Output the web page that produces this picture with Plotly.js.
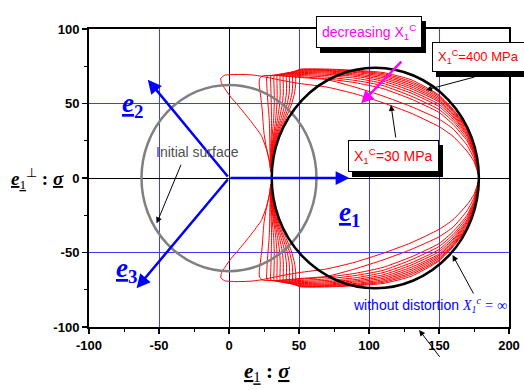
<!DOCTYPE html>
<html><head><meta charset="utf-8">
<script src="https://cdn.plot.ly/plotly-3.0.1.min.js"></script>
<style>html,body{margin:0;padding:0;background:#fff}#chart{width:524px;height:390px}</style>
</head><body><div id="chart"></div>
<script>
// ---- data ----
const xTicks = [-100, -50, 0, 50, 100, 150, 200];
const yTicks = [-100, -50, 0, 50, 100];
const X1c = [30, 40, 50, 60, 80, 100, 130, 160, 200, 250, 320, 400]; // MPa (curve family)

// initial surface (gray) and undistorted surface (black): centre x, centre y, radius
const initialCircle = [0, 0, 62.5];
const noDistortionCircle = [104.5, 0, 74];

// basis vectors drawn from the origin (tips)
const vecNames = ['1', '2', '3'];
const vecTipX = [86, -58, -66];
const vecTipY = [0, 66, -74];

// upper halves of the distorted surfaces (lower halves are mirror images)
const c0x = [29.8, 29.0, 26.6, 23.0, 16.0, 6.4, 1.5, -3.0, -5.5, -5.8, -3.0, 5, 15, 22, 35, 50, 70, 90, 110, 130, 150, 160, 170, 175, 178.5];
const c0y = [4, 10.7, 19.7, 28.6, 37.6, 48.8, 54, 60, 64, 67, 69, 69.5, 69.3, 68.5, 66, 63.5, 61, 56.5, 50.5, 43.5, 34.5, 28, 18, 11, 0];
const c1x = [29.8, 29.0, 28.0, 26.6, 25.0, 24.3, 23.8, 23.0, 22.2, 21.6, 21.8, 24, 35, 50, 70, 90, 110, 130, 150, 160, 170, 175, 178.5];
const c1y = [4, 10, 15, 21, 30, 38, 45, 52, 58, 63, 66.5, 68.5, 68.8, 67.5, 66, 61, 55, 48, 39.5, 33, 22, 13, 0];

// remaining curves: ear x at earY levels, corner point, arc y at arcX stations
const earY = [4, 9, 14, 20, 26, 33, 40, 49, 57, 63];
const arcX = [50, 70, 90, 110, 130, 150, 160, 170, 175, 178.5];
const earX2 = [29.8, 29.6, 29.4, 29.2, 29.1, 29.0, 28.7, 27.9, 27.3, 27.0];
const earX3 = [29.8, 29.7, 29.7, 29.8, 30.0, 30.3, 30.4, 30.2, 30.0, 29.8];
const earX4 = [29.8, 29.8, 29.9, 30.2, 30.6, 31.3, 31.9, 32.3, 32.3, 32.1];
const earX5 = [29.8, 29.9, 30.1, 30.6, 31.3, 32.5, 33.4, 34.2, 34.4, 34.3];
const earX6 = [29.8, 30.0, 30.3, 30.9, 31.8, 33.3, 34.7, 36.1, 36.6, 36.5];
const earX7 = [29.8, 30.0, 30.4, 31.2, 32.3, 34.2, 36.0, 38.0, 38.8, 38.8];
const earX8 = [29.8, 30.1, 30.5, 31.5, 32.8, 35.0, 37.2, 39.8, 41.0, 41.1];
const earX9 = [29.8, 30.1, 30.6, 31.8, 33.3, 35.8, 38.4, 41.4, 43.0, 43.3];
const earX10 = [29.8, 30.2, 30.8, 32.1, 33.8, 36.6, 39.5, 43.0, 45.0, 45.5];
const earX11 = [29.8, 30.2, 30.9, 32.4, 34.3, 37.4, 40.6, 44.5, 46.8, 47.6];
const cornerX = [27.2, 30.0, 32.4, 34.6, 36.8, 39.0, 41.2, 43.4, 45.6, 48.0];
const cornerY = [68.3, 68.6, 68.9, 69.2, 69.5, 69.8, 70.1, 70.4, 70.7, 71.0];
const arcY2 = [68.0, 66.5, 64.0, 60.0, 53.0, 44.0, 36.0, 25.0, 15.0, 0];
const arcY3 = [68.8, 67.7, 65.5, 62.0, 55.0, 46.0, 38.0, 26.5, 16.0, 0];
const arcY4 = [69.5, 68.7, 67.0, 63.5, 57.0, 48.0, 39.5, 28.0, 17.0, 0];
const arcY5 = [70.2, 69.6, 68.2, 65.0, 58.5, 49.5, 41.0, 29.0, 17.8, 0];
const arcY6 = [70.8, 70.4, 69.1, 66.2, 60.0, 51.0, 42.0, 30.0, 18.5, 0];
const arcY7 = [71.3, 71.1, 69.9, 67.3, 61.3, 52.0, 43.0, 31.0, 19.2, 0];
const arcY8 = [71.8, 71.7, 70.8, 68.3, 62.5, 53.0, 44.0, 32.0, 19.8, 0];
const arcY9 = [72.2, 72.2, 71.4, 69.2, 63.7, 54.0, 44.8, 32.8, 20.4, 0];
const arcY10 = [72.6, 72.7, 71.9, 70.0, 64.8, 55.0, 45.5, 33.5, 21.0, 0];
const arcY11 = [72.9, 73.1, 72.3, 70.8, 66.0, 55.7, 46.2, 34.0, 21.6, 0];

// ---- build traces ----
const upperX = [c0x, c1x];
const upperY = [c0y, c1y];
const ears = [earX2, earX3, earX4, earX5, earX6, earX7, earX8, earX9, earX10, earX11];
const arcs = [arcY2, arcY3, arcY4, arcY5, arcY6, arcY7, arcY8, arcY9, arcY10, arcY11];
ears.forEach((ex, i) => {
  upperX.push(ex.concat([cornerX[i]], arcX));
  upperY.push(earY.concat([cornerY[i]], arcs[i]));
});

const traces = upperX.map((ux, k) => {
  const uy = upperY[k];
  const lx = ux.slice(0, -1).reverse();
  const ly = uy.slice(0, -1).reverse().map(v => -v);
  return {
    type: 'scatter', mode: 'lines',
    x: ux.concat(lx), y: uy.concat(ly),
    name: 'X1c=' + X1c[k] + ' MPa',
    line: {color: '#ff0000', width: 1, shape: 'spline', smoothing: 0.5},
    showlegend: false, hoverinfo: 'skip'
  };
});

function circleShape(c, color) {
  return {type: 'circle', xref: 'x', yref: 'y',
    x0: c[0] - c[2], x1: c[0] + c[2], y0: c[1] - c[2], y1: c[1] + c[2],
    line: {color: color, width: 2.5}, layer: 'above'};
}

const serif = 'Liberation Serif, Times New Roman, serif';
const sans = 'Liberation Sans, Arial, sans-serif';

const annotations = [];
// blue basis vectors
vecTipX.forEach((tx, i) => {
  annotations.push({x: tx, y: vecTipY[i], xref: 'x', yref: 'y', ax: 0, ay: 0, axref: 'x', ayref: 'y',
    text: '', showarrow: true, arrowhead: 2, arrowsize: 1.1, arrowwidth: 2.5, arrowcolor: '#0000ff'});
});
// basis vector labels
const vecLabX = [86, -69, -73];
const vecLabY = [-24, 49, -62];
vecNames.forEach((n, i) => {
  annotations.push({x: vecLabX[i], y: vecLabY[i], xref: 'x', yref: 'y', showarrow: false,
    xanchor: 'center', yanchor: 'middle',
    text: '<b><i><u>e</u></i></b><sub><b>' + n + '</b></sub>',
    font: {family: serif, size: 27, color: '#0000ff'}});
});
// Initial surface
annotations.push({x: -22.3, y: 17.4, xref: 'x', yref: 'y', showarrow: false, text: 'Initial surface',
  xanchor: 'center', yanchor: 'middle',
  font: {family: sans, size: 14, color: '#505050'}});
annotations.push({x: -51.7, y: -30.4, xref: 'x', yref: 'y', ax: 25, ay: -60, text: '', showarrow: true,
  arrowhead: 2, arrowsize: 1.2, arrowwidth: 1, arrowcolor: '#000'});
// without distortion
annotations.push({x: 87.4, y: -85.2, xref: 'x', yref: 'y', xanchor: 'left', yanchor: 'middle', showarrow: false,
  text: 'without distortion <span style="font-family:Liberation Serif;font-style:italic">X<sub>1</sub><sup>c</sup> = ∞</span>',
  font: {family: sans, size: 14, color: '#0000ff'}});
annotations.push({x: 159.7, y: -51.7, xref: 'x', yref: 'y', ax: 21.7, ay: 40, text: '', showarrow: true,
  arrowhead: 2, arrowsize: 1.2, arrowwidth: 1, arrowcolor: '#000'});
annotations.push({x: 0.786, y: -0.01, xref: 'paper', yref: 'paper', ax: 21.7, ay: 28.3, text: '', showarrow: true,
  arrowhead: 2, arrowsize: 1.2, arrowwidth: 1, arrowcolor: '#000'});
// magenta arrow
annotations.push({x: 94.4, y: 50.1, xref: 'x', yref: 'y', ax: 41.6, ay: -43.3, text: '', showarrow: true,
  arrowhead: 2, arrowsize: 1, arrowwidth: 2.5, arrowcolor: '#ff00ff'});
// arrows from boxes
annotations.push({x: 140.7, y: 59.1, xref: 'x', yref: 'y', ax: 50, ay: -13.3, text: '', showarrow: true,
  arrowhead: 2, arrowsize: 1.2, arrowwidth: 1, arrowcolor: '#000'});
annotations.push({x: 115.7, y: 49, xref: 'x', yref: 'y', ax: 5, ay: 34, text: '', showarrow: true,
  arrowhead: 2, arrowsize: 1.2, arrowwidth: 1, arrowcolor: '#000'});

// boxed labels with drop shadows
function boxed(px, py, text, color, size) {
  const base = {x: px, y: py, xref: 'paper', yref: 'paper', showarrow: false, text: text,
    xanchor: 'center', yanchor: 'middle', borderpad: 5, borderwidth: 1};
  annotations.push(Object.assign({}, base, {xshift: 4, yshift: -5, bgcolor: '#000', bordercolor: '#000',
    font: {family: sans, size: size, color: '#000'}}));
  annotations.push(Object.assign({}, base, {bgcolor: '#fff', bordercolor: '#000',
    font: {family: sans, size: size, color: color}}));
}
boxed(0.667, 0.99, 'decreasing X<sub>1</sub><sup>C</sup>', '#ff00ff', 14);
boxed(0.927, 0.907, 'X<sub>1</sub><sup>C</sup>=400 MPa', '#ff0000', 13);
boxed(0.726, 0.5728, 'X<sub>1</sub><sup>C</sup>=30 MPa', '#ff0000', 14);

// axis titles
annotations.push({x: 0.424, y: -0.151, xref: 'paper', yref: 'paper', showarrow: false,
  xanchor: 'center', yanchor: 'middle',
  text: '<b><i><u>e</u></i></b><sub><u>1</u></sub><b> : <i><u>σ</u></i></b>',
  font: {family: serif, size: 21, color: '#000'}});
annotations.push({x: -0.19, y: 0.5, xref: 'paper', yref: 'paper', showarrow: false,
  xanchor: 'left', yanchor: 'middle',
  text: '<b><i><u>e</u></i></b><sub><u>1</u></sub><sup>⊥</sup><b> : <i><u>σ</u></i></b>',
  font: {family: serif, size: 19, color: '#000'}});

const axisCommon = {
  ticks: 'outside', ticklen: 5, tickwidth: 1.5, tickcolor: '#000',
  showline: true, linewidth: 2, linecolor: '#000', mirror: true,
  showgrid: true, gridcolor: '#3c3cff', gridwidth: 1,
  zeroline: true, zerolinewidth: 1,
  tickfont: {family: sans, size: 13, weight: 'bold', color: '#000'},
  fixedrange: true
};

const layout = {
  width: 524, height: 390,
  margin: {l: 89, r: 15, t: 29, b: 63},
  paper_bgcolor: '#fff', plot_bgcolor: '#fff',
  showlegend: false,
  xaxis: Object.assign({}, axisCommon, {range: [-100, 200], tickvals: xTicks, ticktext: xTicks.map(String),
    zerolinecolor: '#000050',
    minor: {dtick: 25, ticks: 'outside', ticklen: 3, tickwidth: 1, tickcolor: '#000', showgrid: false}}),
  yaxis: Object.assign({}, axisCommon, {range: [-100, 100], tickvals: yTicks, ticktext: yTicks.map(String),
    zerolinecolor: '#000',
    minor: {dtick: 25, ticks: 'outside', ticklen: 3, tickwidth: 1, tickcolor: '#000', showgrid: false}}),
  shapes: [circleShape(initialCircle, '#808080'), circleShape(noDistortionCircle, '#000')],
  annotations: annotations
};

Plotly.newPlot('chart', traces, layout, {staticPlot: true, displayModeBar: false});
</script></body></html>
